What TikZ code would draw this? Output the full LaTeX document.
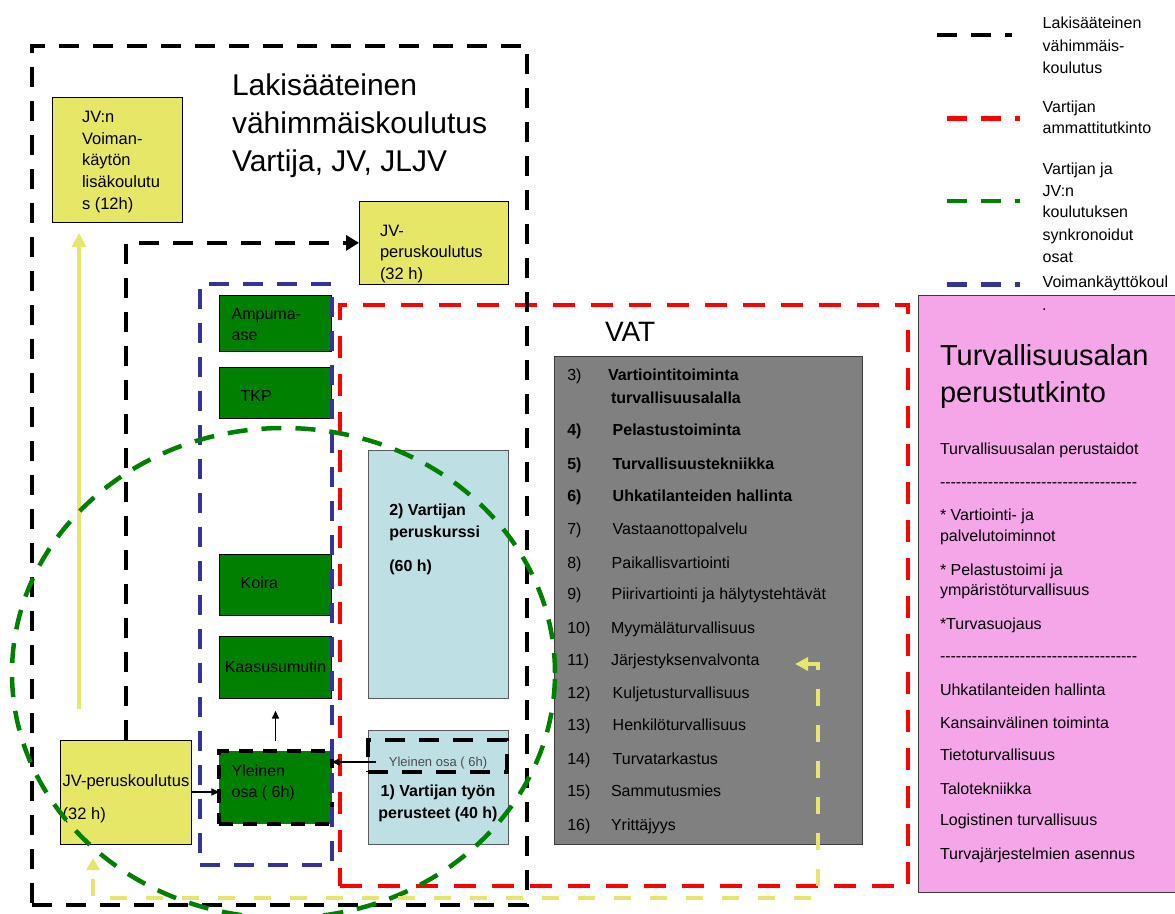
\documentclass[tikz,border=0pt]{standalone}
\usepackage{fontspec}
\setmainfont{Liberation Sans}
\usetikzlibrary{arrows.meta,shapes.geometric}
\definecolor{jvyel}{RGB}{230,230,103}
\definecolor{vgreen}{RGB}{0,128,0}
\definecolor{lblue}{RGB}{190,224,228}
\definecolor{lbord}{RGB}{90,90,90}
\definecolor{vgray}{RGB}{128,128,128}
\definecolor{gbord}{RGB}{60,60,60}
\definecolor{vpink}{RGB}{245,166,233}
\definecolor{vblue}{RGB}{51,51,153}
\definecolor{vred}{RGB}{255,0,0}
\definecolor{ydash}{RGB}{230,230,110}
\newcommand\myfs[1]{\fontsize{#1}{#1}\selectfont}
\newcommand\hy{\mbox{-}}
\newcommand\hyten{\hy\hy\hy\hy\hy\hy\hy\hy\hy\hy}
\newcommand\hyline{\hyten\hyten\hyten\hy\hy\hy\hy\hy\hy\hy}
\begin{document}
\begin{tikzpicture}[x=1pt,y=-1pt,
  txt/.style={inner sep=0pt,outer sep=0pt,anchor=base west,font=\myfs{16}},
  txtb/.style={txt,font=\myfs{16}\bfseries},
  bx/.style={draw,line width=0.8pt,inner sep=0pt,outer sep=0pt,anchor=north west},
  frame/.style={draw,line width=4.5pt,inner sep=0pt,outer sep=0pt,anchor=north west},
  dashk/.style={dash pattern=on 20pt off 14pt},
  dashr/.style={dash pattern=on 22pt off 16pt},
  dashy/.style={dash pattern=on 17pt off 19pt},
  tarr/.style={line width=1.5pt,-{Triangle[length=8pt,width=7pt]}},
  bigtip/.style={-{Triangle[length=13pt,width=15pt]}}
]
\useasboundingbox (0,0) rectangle (1175,913);
\fill[white] (0,0) rectangle (1175,913);

% legend
\draw[line width=4.5pt,dashk] (937,35) -- (1012,35);
\draw[line width=4.5pt,draw=vred,dashk] (946.7,118.3) -- (1020,118.3);
\draw[line width=4.5pt,draw=vgreen,dashk] (946.7,201) -- (1020,201);
\draw[line width=4.5pt,draw=vblue,dashk] (946.7,284.3) -- (1020,284.3);
\node[txt] (l1a) at (1042.7,28.5) {Lakisääteinen};
\node[txt] (l1b) at (1042.7,51.5) {vähimmäis-};
\node[txt] (l1c) at (1042.7,73.5) {koulutus};
\node[txt] (l2a) at (1042.7,112.5) {Vartijan};
\node[txt] (l2b) at (1042.7,133.5) {ammattitutkinto};
\node[txt] (l3a) at (1042.7,174.1) {Vartijan ja};
\node[txt] (l3b) at (1042.7,196.5) {JV:n};
\node[txt] (l3c) at (1042.7,217.5) {koulutuksen};
\node[txt] (l3d) at (1042.7,240.1) {synkronoidut};
\node[txt] (l3e) at (1042.7,262.5) {osat};
\node[txt] (l4a) at (1042.7,287.5) {Voimankäyttökoul};

% pink box
\node[bx,fill=vpink,draw=gbord,minimum width=265,minimum height=597] (pink) at (918.3,295) {};
\node[txt] (pdot) at (1042,310) {.};
\node[txt,font=\myfs{29}] (pt1) at (940,365.4) {Turvallisuusalan};
\node[txt,font=\myfs{29}] (pt2) at (940,402.1) {perustutkinto};
\node[txt] (p1) at (940,454.1) {Turvallisuusalan perustaidot};
\node[txt] (p2) at (940,487) {\hyline};
\node[txt] (p3) at (940,520.8) {* Vartiointi- ja};
\node[txt] (p4) at (940,541.8) {palvelutoiminnot};
\node[txt] (p5) at (940,575.1) {* Pelastustoimi ja};
\node[txt] (p6) at (940,595.8) {ympäristöturvallisuus};
\node[txt] (p7) at (940,629.1) {*Turvasuojaus};
\node[txt] (p8) at (940,661) {\hyline};
\node[txt] (p9) at (940,695.1) {Uhkatilanteiden hallinta};
\node[txt] (p10) at (940,728.1) {Kansainvälinen toiminta};
\node[txt] (p11) at (940,760.8) {Tietoturvallisuus};
\node[txt] (p12) at (940,794.1) {Talotekniikka};
\node[txt] (p13) at (940,825.8) {Logistinen turvallisuus};
\node[txt] (p14) at (940,859.8) {Turvajärjestelmien asennus};

% yellow boxes
\node[bx,fill=jvyel,minimum width=130,minimum height=124.6] (jvlisa) at (52,97.7) {};
\node[bx,fill=jvyel,minimum width=149,minimum height=83.7] (jvtop) at (359,201) {};
\node[bx,fill=jvyel,minimum width=131,minimum height=104] (jvlow) at (60.7,740) {};
% green boxes
\node[bx,fill=vgreen,minimum width=112.4,minimum height=56] (ampuma) at (219.3,295) {};
\node[bx,fill=vgreen,minimum width=112.4,minimum height=51.4] (tkp) at (219.3,367.3) {};
\node[bx,fill=vgreen,minimum width=112.4,minimum height=61.4] (koira) at (219.3,554.3) {};
\node[bx,fill=vgreen,minimum width=112.4,minimum height=62] (kaasu) at (219.3,636.7) {};
\node[bx,fill=vgreen,line width=4pt,dash pattern=on 14pt off 10pt,minimum width=112.4,minimum height=73.3] (yleinen) at (219.3,750.7) {};
% light blue boxes
\node[bx,fill=lblue,draw=lbord,minimum width=139.6,minimum height=248.7] (perusk) at (368.7,450) {};
\node[bx,fill=lblue,draw=lbord,minimum width=139.6,minimum height=114.3] (tyon) at (368.7,730) {};
\node[bx,line width=4pt,dashk,minimum width=138.7,minimum height=31.7] (ylsmall) at (368,740) {};
% gray VAT box
\node[bx,fill=vgray,draw=gbord,minimum width=308.7,minimum height=487.3] (vat) at (554,356.7) {};

% texts in boxes
\node[txt,font=\myfs{16.5}] (j1) at (82,122.6) {JV:n};
\node[txt,font=\myfs{16.5}] (j2) at (82,144.2) {Voiman-};
\node[txt,font=\myfs{16.5}] (j3) at (82,165.9) {käytön};
\node[txt,font=\myfs{16.5}] (j4) at (82,187.6) {lisäkoulutu};
\node[txt,font=\myfs{16.5}] (j5) at (82,209.2) {s (12h)};
\node[txt,font=\myfs{30}] (ti1) at (232,95) {Lakisääteinen};
\node[txt,font=\myfs{30}] (ti2) at (232,133) {vähimmäiskoulutus};
\node[txt,font=\myfs{30}] (ti3) at (232,171) {Vartija, JV, JLJV};
\node[txt,font=\myfs{16.5}] (k1) at (380,236) {JV-};
\node[txt,font=\myfs{16.5}] (k2) at (380,257.6) {peruskoulutus};
\node[txt,font=\myfs{16.5}] (k3) at (380,279.3) {(32 h)};
\node[txt] (g1) at (231.7,319) {Ampuma-};
\node[txt] (g2) at (231.7,340) {ase};
\node[txt] (g3) at (240.7,401.6) {TKP};
\node[txt] (g4) at (240.7,588.6) {Koira};
\node[txt,anchor=base] (g5) at (275.5,672) {Kaasusumutin};
\node[txt] (g6) at (231.7,776) {Yleinen};
\node[txt] (g7) at (231.7,797.6) {osa ( 6h)};
\node[txtb] (b1) at (389.3,515.8) {2) Vartijan};
\node[txtb] (b2) at (389.3,537.5) {peruskurssi};
\node[txtb] (b3) at (389.3,571.8) {(60 h)};
\node[txt,anchor=base,font=\myfs{13},text=black!70] (b4) at (438,766.4) {Yleinen osa ( 6h)};
\node[txtb,anchor=base] (b5) at (438,796.5) {1) Vartijan työn};
\node[txtb,anchor=base] (b6) at (438,818.1) {perusteet (40 h)};
\node[txt,font=\myfs{16.5}] (w1) at (62.7,786) {JV-peruskoulutus};
\node[txt,font=\myfs{16.5}] (w2) at (62.7,819.2) {(32 h)};

% VAT list
\node[txt,font=\myfs{28}] (vt) at (605,341.8) {VAT};
\node[txt] (n3) at (567.3,380.8) {3)};
\node[txtb] (i3a) at (608,380.8) {Vartiointitoiminta};
\node[txtb] (i3b) at (611,403.1) {turvallisuusalalla};
\node[txtb] (n4) at (567.3,435.1) {4)};
\node[txtb] (i4) at (612.7,435.1) {Pelastustoiminta};
\node[txtb] (n5) at (567.3,469.1) {5)};
\node[txtb] (i5) at (612.7,469.1) {Turvallisuustekniikka};
\node[txtb] (n6) at (567.3,501.5) {6)};
\node[txtb] (i6) at (612.7,501.5) {Uhkatilanteiden hallinta};
\node[txt] (n7) at (567.3,534.1) {7)};
\node[txt] (i7) at (612.7,534.1) {Vastaanottopalvelu};
\node[txt] (n8) at (567.3,568.1) {8)};
\node[txt] (i8) at (611.7,568.1) {Paikallisvartiointi};
\node[txt] (n9) at (567.3,599.8) {9)};
\node[txt] (i9) at (611.7,599.8) {Piirivartiointi ja hälytystehtävät};
\node[txt] (n10) at (567.3,633.5) {10)};
\node[txt] (i10) at (611,633.5) {Myymäläturvallisuus};
\node[txt] (n11) at (567.3,665.8) {11)};
\node[txt] (i11) at (611,665.8) {Järjestyksenvalvonta};
\node[txt] (n12) at (567.3,698.5) {12)};
\node[txt] (i12) at (612.7,698.5) {Kuljetusturvallisuus};
\node[txt] (n13) at (567.3,730.8) {13)};
\node[txt] (i13) at (612.7,730.8) {Henkilöturvallisuus};
\node[txt] (n14) at (567.3,764.1) {14)};
\node[txt] (i14) at (612.7,764.1) {Turvatarkastus};
\node[txt] (n15) at (567.3,796.5) {15)};
\node[txt] (i15) at (611,796.5) {Sammutusmies};
\node[txt] (n16) at (567.3,830.1) {16)};
\node[txt] (i16) at (611,830.1) {Yrittäjyys};

% frames
\node[frame,draw=vblue,dashk,minimum width=132,minimum height=581] (voima) at (200,284) {};
\node[frame,draw=vred,dashr,minimum width=568,minimum height=581] (vart) at (340,305) {};
\node[frame,draw=black,dashk,minimum width=495,minimum height=859] (lak) at (32,46) {};

% connectors
\draw[line width=4.5pt,dashk,bigtip] (jvlow.north) |- (jvtop.west);
\coordinate (ya) at (79,709);
\coordinate (yb) at (79,233);
\draw[line width=4pt,color=ydash,-{Triangle[length=14pt,width=14pt]}] (ya) -- (yb);
\draw[tarr] (jvlow.east) -- (jvlow.east -| yleinen.west);
\coordinate (sa) at (376,762);
\draw[tarr] (sa) -- (sa -| yleinen.east);
\draw[tarr,shorten <=10pt,shorten >=12pt] (yleinen.north) -- (kaasu.south);

% green synchronised ellipse
\node[draw=vgreen,line width=4.5pt,dashk,ellipse,inner sep=0pt,minimum width=543,minimum height=490] (sync) at (283.5,673) {};

% yellow dashed connector
\coordinate (yd1) at (795,664);
\coordinate (yd2) at (93,858);
\draw[line width=4pt,color=ydash,dashy,{Triangle[length=13pt,width=13pt]}-{Triangle[length=12pt,width=13pt]}] (yd1) -- (818,664) -- (818,898) -- (93,898) -- (yd2);
\end{tikzpicture}
\end{document}
